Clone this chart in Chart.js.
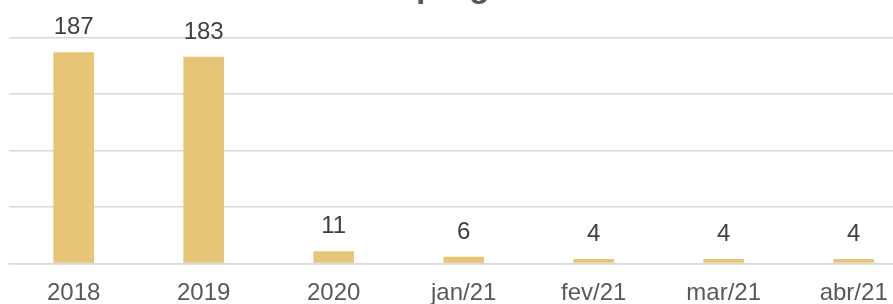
<!DOCTYPE html>
<html lang="pt">
<head>
    <meta charset="UTF-8">
    <title>Chart</title>
    <script src="https://cdn.jsdelivr.net/npm/chart.js"></script>
    <style>
        html, body { margin: 0; padding: 0; overflow: hidden; background: #fff; }
        #wrap { position: relative; width: 930px; height: 324px; }
    </style>
</head>
<body>

<div id="wrap"><canvas id="chart"></canvas></div>

<script>
    // values
    var chartTitle = 'Empregos'
    var categories = ['2018', '2019', '2020', 'jan/21', 'fev/21', 'mar/21', 'abr/21']
    var values = [187, 183, 11, 6, 4, 4, 4]
    var yMin = 0
    var yMax = 200
    var yStep = 50

    var fontName = '"Liberation Sans", Arial, sans-serif'

    // title sits above the visible area, only its descenders show
    var titlePlugin = {
        id: 'cutTitle',
        afterDraw: function (chart) {
            var ctx = chart.ctx
            ctx.save()
            ctx.font = 'bold 34px ' + fontName
            ctx.fillStyle = '#595959'
            ctx.textAlign = 'left'
            ctx.textBaseline = 'alphabetic'
            var lead = ctx.measureText('Em').width
            ctx.fillText(chartTitle, 416 - lead, -3)
            ctx.restore()
        }
    }

    var valueLabels = {
        id: 'valueLabels',
        afterDatasetsDraw: function (chart) {
            var ctx = chart.ctx
            var meta = chart.getDatasetMeta(0)
            ctx.save()
            ctx.font = '24px ' + fontName
            ctx.fillStyle = '#404040'
            ctx.textAlign = 'center'
            ctx.textBaseline = 'alphabetic'
            meta.data.forEach(function (bar, i) {
                ctx.fillText(String(values[i]), bar.x, bar.y - 18)
            })
            ctx.restore()
        }
    }

    var canvas = document.getElementById('chart')
    var chart = new Chart(canvas, {
        type: 'bar',
        data: {
            labels: categories,
            datasets: [{
                data: values,
                backgroundColor: '#E6C676',
                borderWidth: 0,
                categoryPercentage: 1,
                barPercentage: 0.313
            }]
        },
        options: {
            responsive: true,
            maintainAspectRatio: false,
            animation: false,
            layout: { padding: { left: 8.7, right: 11.3, top: 37.5, bottom: 0 } },
            plugins: {
                legend: { display: false },
                title: { display: false },
                tooltip: { enabled: false }
            },
            scales: {
                x: {
                    grid: { display: false, drawTicks: false },
                    border: { display: true, color: '#d9d9d9', width: 1.5 },
                    ticks: {
                        color: '#595959',
                        font: { family: fontName, size: 24, lineHeight: 1.1 },
                        padding: 17,
                        maxRotation: 0,
                        autoSkip: false
                    }
                },
                y: {
                    min: yMin,
                    max: yMax,
                    ticks: { display: false, stepSize: yStep },
                    grid: { color: '#d9d9d9', lineWidth: 1.5, drawTicks: false },
                    border: { display: false }
                }
            }
        },
        plugins: [titlePlugin, valueLabels]
    })
</script>

</body>
</html>
